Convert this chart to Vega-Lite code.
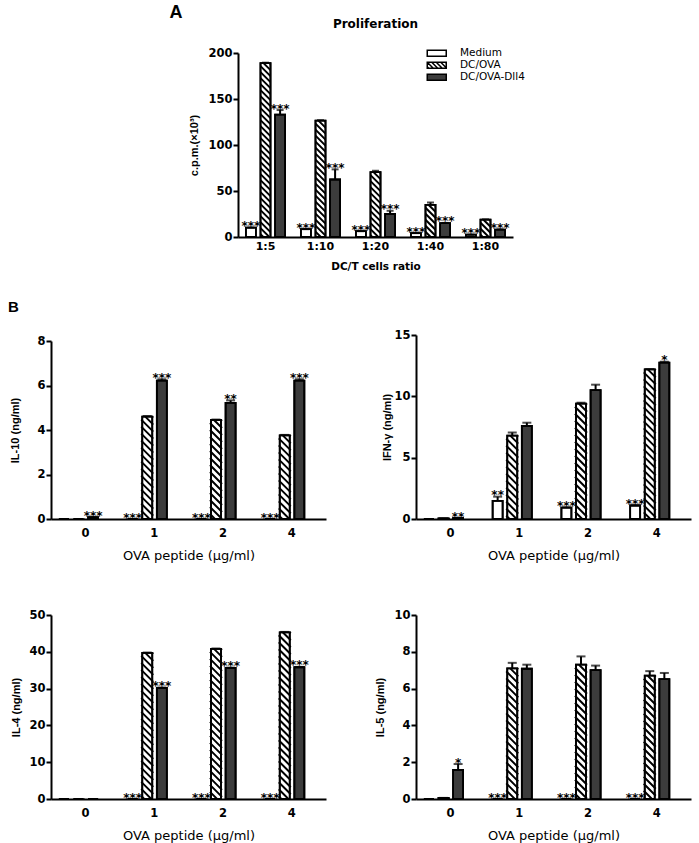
{
  "$schema": "https://vega.github.io/schema/vega-lite/v6.json",
  "background": "white",
  "padding": {"left": 8, "top": 3, "right": 3, "bottom": 0},
  "config": {
    "view": {"stroke": null},
    "font": "DejaVu Sans",
    "axis": {"grid": false, "labelOverlap": false, "domainColor": "black", "domainWidth": 2, "tickColor": "black", "tickWidth": 2, "tickSize": 5, "labelColor": "black", "labelFont": "DejaVu Sans", "labelFontWeight": "bold", "labelFontSize": 11.5, "titleColor": "black"},
    "axisX": {"ticks": false, "tickSize": 0, "labelAngle": 0, "labelPadding": 8, "titleFont": "DejaVu Sans", "titleFontWeight": "normal", "titleFontSize": 13, "titlePadding": 11},
    "axisY": {"labelPadding": 1, "tickCount": 12, "format": "d", "titleFont": "Liberation Sans", "titleFontWeight": "bold", "titleFontSize": 11},
    "title": {"color": "black"}
  },
  "datasets": {
    "prolif": [
      {"ratio": "1:5", "group": "Medium", "value": 10.2, "upper": 10.2, "sig": "***"},
      {"ratio": "1:5", "group": "DC/OVA", "value": 189, "upper": 189.5, "sig": ""},
      {"ratio": "1:5", "group": "DC/OVA-Dll4", "value": 133, "upper": 138, "sig": "***"},
      {"ratio": "1:10", "group": "Medium", "value": 8.5, "upper": 8.5, "sig": "***"},
      {"ratio": "1:10", "group": "DC/OVA", "value": 126.5, "upper": 127, "sig": ""},
      {"ratio": "1:10", "group": "DC/OVA-Dll4", "value": 62.5, "upper": 73.5, "sig": "***"},
      {"ratio": "1:20", "group": "Medium", "value": 6.3, "upper": 6.3, "sig": "***"},
      {"ratio": "1:20", "group": "DC/OVA", "value": 70.5, "upper": 72, "sig": ""},
      {"ratio": "1:20", "group": "DC/OVA-Dll4", "value": 25, "upper": 28.5, "sig": "***"},
      {"ratio": "1:40", "group": "Medium", "value": 4.2, "upper": 4.2, "sig": "***"},
      {"ratio": "1:40", "group": "DC/OVA", "value": 35, "upper": 37.5, "sig": ""},
      {"ratio": "1:40", "group": "DC/OVA-Dll4", "value": 15, "upper": 15.3, "sig": "***"},
      {"ratio": "1:80", "group": "Medium", "value": 2.5, "upper": 2.5, "sig": "***"},
      {"ratio": "1:80", "group": "DC/OVA", "value": 18.8, "upper": 19.2, "sig": ""},
      {"ratio": "1:80", "group": "DC/OVA-Dll4", "value": 8, "upper": 8.3, "sig": "***"}
    ],
    "cyto": [
      {"cyt": "IL-10", "conc": "0", "group": "Medium", "value": 0, "upper": 0, "sig": ""},
      {"cyt": "IL-10", "conc": "0", "group": "DC/OVA", "value": 0, "upper": 0, "sig": ""},
      {"cyt": "IL-10", "conc": "0", "group": "DC/OVA-Dll4", "value": 0.08, "upper": 0.08, "sig": "***"},
      {"cyt": "IL-10", "conc": "1", "group": "Medium", "value": 0, "upper": 0, "sig": "***"},
      {"cyt": "IL-10", "conc": "1", "group": "DC/OVA", "value": 4.6, "upper": 4.63, "sig": ""},
      {"cyt": "IL-10", "conc": "1", "group": "DC/OVA-Dll4", "value": 6.22, "upper": 6.28, "sig": "***"},
      {"cyt": "IL-10", "conc": "2", "group": "Medium", "value": 0, "upper": 0, "sig": "***"},
      {"cyt": "IL-10", "conc": "2", "group": "DC/OVA", "value": 4.45, "upper": 4.47, "sig": ""},
      {"cyt": "IL-10", "conc": "2", "group": "DC/OVA-Dll4", "value": 5.22, "upper": 5.33, "sig": "**"},
      {"cyt": "IL-10", "conc": "4", "group": "Medium", "value": 0, "upper": 0, "sig": "***"},
      {"cyt": "IL-10", "conc": "4", "group": "DC/OVA", "value": 3.76, "upper": 3.78, "sig": ""},
      {"cyt": "IL-10", "conc": "4", "group": "DC/OVA-Dll4", "value": 6.22, "upper": 6.28, "sig": "***"},
      {"cyt": "IFN-g", "conc": "0", "group": "Medium", "value": 0, "upper": 0, "sig": ""},
      {"cyt": "IFN-g", "conc": "0", "group": "DC/OVA", "value": 0.05, "upper": 0.05, "sig": ""},
      {"cyt": "IFN-g", "conc": "0", "group": "DC/OVA-Dll4", "value": 0.08, "upper": 0.08, "sig": "**"},
      {"cyt": "IFN-g", "conc": "1", "group": "Medium", "value": 1.48, "upper": 1.82, "sig": "**"},
      {"cyt": "IFN-g", "conc": "1", "group": "DC/OVA", "value": 6.8, "upper": 7.05, "sig": ""},
      {"cyt": "IFN-g", "conc": "1", "group": "DC/OVA-Dll4", "value": 7.58, "upper": 7.85, "sig": ""},
      {"cyt": "IFN-g", "conc": "2", "group": "Medium", "value": 0.93, "upper": 0.95, "sig": "***"},
      {"cyt": "IFN-g", "conc": "2", "group": "DC/OVA", "value": 9.4, "upper": 9.48, "sig": ""},
      {"cyt": "IFN-g", "conc": "2", "group": "DC/OVA-Dll4", "value": 10.5, "upper": 10.95, "sig": ""},
      {"cyt": "IFN-g", "conc": "4", "group": "Medium", "value": 1.1, "upper": 1.12, "sig": "***"},
      {"cyt": "IFN-g", "conc": "4", "group": "DC/OVA", "value": 12.2, "upper": 12.22, "sig": ""},
      {"cyt": "IFN-g", "conc": "4", "group": "DC/OVA-Dll4", "value": 12.75, "upper": 12.82, "sig": "*"},
      {"cyt": "IL-4", "conc": "0", "group": "Medium", "value": 0, "upper": 0, "sig": ""},
      {"cyt": "IL-4", "conc": "0", "group": "DC/OVA", "value": 0, "upper": 0, "sig": ""},
      {"cyt": "IL-4", "conc": "0", "group": "DC/OVA-Dll4", "value": 0, "upper": 0, "sig": ""},
      {"cyt": "IL-4", "conc": "1", "group": "Medium", "value": 0, "upper": 0, "sig": "***"},
      {"cyt": "IL-4", "conc": "1", "group": "DC/OVA", "value": 39.7, "upper": 39.8, "sig": ""},
      {"cyt": "IL-4", "conc": "1", "group": "DC/OVA-Dll4", "value": 30.2, "upper": 30.3, "sig": "***"},
      {"cyt": "IL-4", "conc": "2", "group": "Medium", "value": 0, "upper": 0, "sig": "***"},
      {"cyt": "IL-4", "conc": "2", "group": "DC/OVA", "value": 40.8, "upper": 40.9, "sig": ""},
      {"cyt": "IL-4", "conc": "2", "group": "DC/OVA-Dll4", "value": 35.6, "upper": 35.7, "sig": "***"},
      {"cyt": "IL-4", "conc": "4", "group": "Medium", "value": 0, "upper": 0, "sig": "***"},
      {"cyt": "IL-4", "conc": "4", "group": "DC/OVA", "value": 45.3, "upper": 45.4, "sig": ""},
      {"cyt": "IL-4", "conc": "4", "group": "DC/OVA-Dll4", "value": 35.8, "upper": 35.9, "sig": "***"},
      {"cyt": "IL-5", "conc": "0", "group": "Medium", "value": 0, "upper": 0, "sig": ""},
      {"cyt": "IL-5", "conc": "0", "group": "DC/OVA", "value": 0.06, "upper": 0.06, "sig": ""},
      {"cyt": "IL-5", "conc": "0", "group": "DC/OVA-Dll4", "value": 1.58, "upper": 1.9, "sig": "*"},
      {"cyt": "IL-5", "conc": "1", "group": "Medium", "value": 0, "upper": 0, "sig": "***"},
      {"cyt": "IL-5", "conc": "1", "group": "DC/OVA", "value": 7.1, "upper": 7.4, "sig": ""},
      {"cyt": "IL-5", "conc": "1", "group": "DC/OVA-Dll4", "value": 7.08, "upper": 7.3, "sig": ""},
      {"cyt": "IL-5", "conc": "2", "group": "Medium", "value": 0, "upper": 0, "sig": "***"},
      {"cyt": "IL-5", "conc": "2", "group": "DC/OVA", "value": 7.3, "upper": 7.75, "sig": ""},
      {"cyt": "IL-5", "conc": "2", "group": "DC/OVA-Dll4", "value": 7.0, "upper": 7.25, "sig": ""},
      {"cyt": "IL-5", "conc": "4", "group": "Medium", "value": 0, "upper": 0, "sig": "***"},
      {"cyt": "IL-5", "conc": "4", "group": "DC/OVA", "value": 6.7, "upper": 6.95, "sig": ""},
      {"cyt": "IL-5", "conc": "4", "group": "DC/OVA-Dll4", "value": 6.52, "upper": 6.85, "sig": ""}
    ]
  },
  "spacing": 27,
  "resolve": {"scale": {"fill": "independent"}, "legend": {"fill": "independent"}},
  "vconcat": [
    {
      "bounds": "flush",
      "spacing": 10,
      "resolve": {"scale": {"fill": "independent"}, "legend": {"fill": "independent"}},
      "hconcat": [
        {
          "width": 177,
          "height": 1,
          "data": {"values": []},
          "mark": "point"
        },
        {
          "width": 275,
          "height": 184,
          "data": {"name": "prolif"},
          "encoding": {
            "x": {"field": "ratio", "type": "nominal", "sort": ["1:5", "1:10", "1:20", "1:40", "1:80"], "scale": {"paddingInner": 0, "paddingOuter": 0}, "axis": {"title": "DC/T cells ratio", "titleFontWeight": "bold", "titleFontSize": 10.5, "labelFontSize": 11, "labelPadding": 3, "titlePadding": 10}},
            "xOffset": {"field": "group", "type": "nominal", "sort": ["Medium", "DC/OVA", "DC/OVA-Dll4"], "scale": {"paddingInner": 0.315, "paddingOuter": 0.541}}
          },
          "layer": [
            {
              "mark": {"type": "bar", "stroke": "black", "strokeWidth": 1.8},
              "encoding": {
                "y": {"field": "value", "type": "quantitative", "scale": {"domain": [0, 200], "nice": false}, "axis": {"title": "c.p.m.(×10³)", "values": [0, 50, 100, 150, 200], "tickCount": 12, "format": "d", "titlePadding": 8}},
                "fill": {"field": "group", "type": "nominal", "scale": {"domain": ["Medium", "DC/OVA", "DC/OVA-Dll4"], "range": ["white", "white", "#3c3c3c"]},
                  "legend": {"title": null, "orient": "none", "legendX": 193.5, "legendY": -5, "padding": 0, "symbolSize": 64, "symbolType": "M-2.375,-0.75L2.375,-0.75L2.375,0.75L-2.375,0.75Z", "symbolStrokeColor": "black", "symbolStrokeWidth": 1.5, "labelFontSize": 10.5, "labelFont": "DejaVu Sans", "labelFontWeight": "normal", "labelColor": "black", "labelOffset": 18, "rowPadding": -1,
                    "encode": {"symbols": {"update": {"shape": {"signal": "datum.value === 'DC/OVA' ? 'M-2.375,-0.75L2.375,-0.75L2.375,0.75L-2.375,0.75ZM-2.375,0.375L-2,0.75M-2.375,-0.75L-0.875,0.75M-1.25,-0.75L0.25,0.75M-0.125,-0.75L1.375,0.75M1,-0.75L2.375,0.625M2.125,-0.75L2.375,-0.5' : 'M-2.375,-0.75L2.375,-0.75L2.375,0.75L-2.375,0.75Z'"}, "stroke": {"value": "black"}}}}}}
              }
            },
            {
              "transform": [{"filter": "datum.group === 'DC/OVA'"}],
              "mark": {"type": "point", "shape": "M4,0L5,1M-2,0L5,7M-5,3L5,13M-5,9L5,19M-5,15L5,25M-5,21L5,31M-5,27L5,37M-5,33L5,43M-5,39L5,49M-5,45L5,55M-5,51L5,61M-5,57L5,67M-5,63L5,73M-5,69L5,79M-5,75L5,85M-5,81L5,91M-5,87L5,97M-5,93L5,103M-5,99L5,109M-5,105L5,115M-5,111L5,121M-5,117L5,127M-5,123L5,133M-5,129L5,139M-5,135L5,145M-5,141L5,151M-5,147L5,157M-5,153L5,163M-5,159L5,169M-5,165L5,175M-5,171L5,181M-5,177L5,187M-5,183L5,193", "size": 4, "filled": false, "stroke": "black", "strokeWidth": 2, "opacity": 1, "clip": true},
              "encoding": {"y": {"field": "value", "type": "quantitative"}}
            },
            {
              "mark": {"type": "bar", "fillOpacity": 0, "stroke": "black", "strokeWidth": 1.8},
              "encoding": {"y": {"field": "value", "type": "quantitative"}}
            },
            {
              "mark": {"type": "rule", "stroke": "black", "strokeWidth": 2},
              "encoding": {"y": {"field": "value", "type": "quantitative"}, "y2": {"field": "upper"}}
            },
            {
              "mark": {"type": "tick", "color": "black", "thickness": 2, "size": 7},
              "encoding": {"y": {"field": "upper", "type": "quantitative"}}
            },
            {
              "mark": {"type": "text", "baseline": "alphabetic", "dy": 2.5, "fontSize": 12, "fontWeight": "bold", "font": "DejaVu Sans", "fill": "black"},
              "encoding": {"y": {"field": "upper", "type": "quantitative"}, "text": {"field": "sig"}}
            },
            {
              "data": {"values": [{"label": "A"}]},
              "mark": {"type": "text", "font": "Liberation Sans", "fontSize": 18, "fontWeight": "bold", "baseline": "middle", "align": "center", "dx": -75, "dy": -40.5, "fill": "black"},
              "encoding": {"x": {"datum": "1:5"}, "xOffset": {"datum": "Medium"}, "y": {"datum": 200}, "text": {"field": "label"}}
            },
            {
              "data": {"values": [{"label": "Proliferation"}]},
              "mark": {"type": "text", "font": "DejaVu Sans", "fontSize": 12, "fontWeight": "bold", "baseline": "middle", "align": "center", "dy": -29.5, "fill": "black"},
              "encoding": {"x": {"datum": "1:20"}, "xOffset": {"datum": "DC/OVA"}, "y": {"datum": 200}, "text": {"field": "label"}}
            }
          ]
        }
      ]
    },
    {
      "columns": 2,
      "bounds": "flush",
      "spacing": {"row": 96, "column": 90},
      "resolve": {"scale": {"fill": "independent"}, "legend": {"fill": "independent"}},
      "concat": [
        {
          "width": 275,
          "height": 184,
          "title": {"text": "B", "anchor": "start", "frame": "group", "dx": -43, "offset": 5.5, "fontSize": 15, "font": "Liberation Sans", "fontWeight": "bold", "baseline": "bottom"},
          "data": {"name": "cyto"},
          "transform": [{"filter": "datum.cyt === 'IL-10'"}],
          "encoding": {
            "x": {"field": "conc", "type": "nominal", "sort": ["0", "1", "2", "4"], "scale": {"paddingInner": 0, "paddingOuter": 0}, "axis": {"title": "OVA peptide (μg/ml)"}},
            "xOffset": {"field": "group", "type": "nominal", "sort": ["Medium", "DC/OVA", "DC/OVA-Dll4"], "scale": {"paddingInner": 0.351, "paddingOuter": 0.534}}
          },
          "layer": [
            {
              "mark": {"type": "bar", "stroke": "black", "strokeWidth": 1.8},
              "encoding": {
                "y": {"field": "value", "type": "quantitative", "scale": {"domain": [0, 8], "range": [184, 6], "nice": false}, "axis": {"title": "IL-10 (ng/ml)", "values": [0, 2, 4, 6, 8], "tickCount": 12, "format": "d", "titlePadding": 16.5}},
                "fill": {"field": "group", "type": "nominal", "scale": {"domain": ["Medium", "DC/OVA", "DC/OVA-Dll4"], "range": ["white", "white", "#3c3c3c"]}, "legend": null}
              }
            },
            {
              "transform": [{"filter": "datum.group === 'DC/OVA'"}],
              "mark": {"type": "point", "shape": "M5,0L6,1M-2,0L6,8M-6,3L6,15M-6,10L6,22M-6,17L6,29M-6,24L6,36M-6,31L6,43M-6,38L6,50M-6,45L6,57M-6,52L6,64M-6,59L6,71M-6,66L6,78M-6,73L6,85M-6,80L6,92M-6,87L6,99M-6,94L6,106M-6,101L6,113M-6,108L6,120M-6,115L6,127M-6,122L6,134M-6,129L6,141M-6,136L6,148M-6,143L6,155M-6,150L6,162M-6,157L6,169M-6,164L6,176M-6,171L6,183M-6,178L6,190M-6,185L6,197", "size": 4, "filled": false, "stroke": "black", "strokeWidth": 2, "opacity": 1, "clip": true},
              "encoding": {"y": {"field": "value", "type": "quantitative"}}
            },
            {
              "mark": {"type": "bar", "fillOpacity": 0, "stroke": "black", "strokeWidth": 1.8},
              "encoding": {"y": {"field": "value", "type": "quantitative"}}
            },
            {
              "mark": {"type": "rule", "stroke": "black", "strokeWidth": 2},
              "encoding": {"y": {"field": "value", "type": "quantitative"}, "y2": {"field": "upper"}}
            },
            {
              "mark": {"type": "tick", "color": "black", "thickness": 2, "size": 9},
              "encoding": {"y": {"field": "upper", "type": "quantitative"}}
            },
            {
              "mark": {"type": "text", "baseline": "alphabetic", "dy": 2.5, "fontSize": 12, "fontWeight": "bold", "font": "DejaVu Sans", "fill": "black"},
              "encoding": {"y": {"field": "upper", "type": "quantitative"}, "text": {"field": "sig"}}
            }
          ]
        },
        {
          "width": 275,
          "height": 184,
          "data": {"name": "cyto"},
          "transform": [{"filter": "datum.cyt === 'IFN-g'"}],
          "encoding": {
            "x": {"field": "conc", "type": "nominal", "sort": ["0", "1", "2", "4"], "scale": {"paddingInner": 0, "paddingOuter": 0}, "axis": {"title": "OVA peptide (μg/ml)"}},
            "xOffset": {"field": "group", "type": "nominal", "sort": ["Medium", "DC/OVA", "DC/OVA-Dll4"], "scale": {"paddingInner": 0.351, "paddingOuter": 0.534}}
          },
          "layer": [
            {
              "mark": {"type": "bar", "stroke": "black", "strokeWidth": 1.8},
              "encoding": {
                "y": {"field": "value", "type": "quantitative", "scale": {"domain": [0, 15], "nice": false}, "axis": {"title": "IFN-γ (ng/ml)", "values": [0, 5, 10, 15], "tickCount": 12, "format": "d", "titlePadding": 1.5}},
                "fill": {"field": "group", "type": "nominal", "scale": {"domain": ["Medium", "DC/OVA", "DC/OVA-Dll4"], "range": ["white", "white", "#3c3c3c"]}, "legend": null}
              }
            },
            {
              "transform": [{"filter": "datum.group === 'DC/OVA'"}],
              "mark": {"type": "point", "shape": "M5,0L6,1M-2,0L6,8M-6,3L6,15M-6,10L6,22M-6,17L6,29M-6,24L6,36M-6,31L6,43M-6,38L6,50M-6,45L6,57M-6,52L6,64M-6,59L6,71M-6,66L6,78M-6,73L6,85M-6,80L6,92M-6,87L6,99M-6,94L6,106M-6,101L6,113M-6,108L6,120M-6,115L6,127M-6,122L6,134M-6,129L6,141M-6,136L6,148M-6,143L6,155M-6,150L6,162M-6,157L6,169M-6,164L6,176M-6,171L6,183M-6,178L6,190M-6,185L6,197", "size": 4, "filled": false, "stroke": "black", "strokeWidth": 2, "opacity": 1, "clip": true},
              "encoding": {"y": {"field": "value", "type": "quantitative"}}
            },
            {
              "mark": {"type": "bar", "fillOpacity": 0, "stroke": "black", "strokeWidth": 1.8},
              "encoding": {"y": {"field": "value", "type": "quantitative"}}
            },
            {
              "mark": {"type": "rule", "stroke": "black", "strokeWidth": 2},
              "encoding": {"y": {"field": "value", "type": "quantitative"}, "y2": {"field": "upper"}}
            },
            {
              "mark": {"type": "tick", "color": "black", "thickness": 2, "size": 9},
              "encoding": {"y": {"field": "upper", "type": "quantitative"}}
            },
            {
              "mark": {"type": "text", "baseline": "alphabetic", "dy": 2.5, "fontSize": 12, "fontWeight": "bold", "font": "DejaVu Sans", "fill": "black"},
              "encoding": {"y": {"field": "upper", "type": "quantitative"}, "text": {"field": "sig"}}
            }
          ]
        },
        {
          "width": 275,
          "height": 184,
          "data": {"name": "cyto"},
          "transform": [{"filter": "datum.cyt === 'IL-4'"}],
          "encoding": {
            "x": {"field": "conc", "type": "nominal", "sort": ["0", "1", "2", "4"], "scale": {"paddingInner": 0, "paddingOuter": 0}, "axis": {"title": "OVA peptide (μg/ml)"}},
            "xOffset": {"field": "group", "type": "nominal", "sort": ["Medium", "DC/OVA", "DC/OVA-Dll4"], "scale": {"paddingInner": 0.351, "paddingOuter": 0.534}}
          },
          "layer": [
            {
              "mark": {"type": "bar", "stroke": "black", "strokeWidth": 1.8},
              "encoding": {
                "y": {"field": "value", "type": "quantitative", "scale": {"domain": [0, 50], "nice": false}, "axis": {"title": "IL-4 (ng/ml)", "values": [0, 10, 20, 30, 40, 50], "tickCount": 12, "format": "d", "titlePadding": 7}},
                "fill": {"field": "group", "type": "nominal", "scale": {"domain": ["Medium", "DC/OVA", "DC/OVA-Dll4"], "range": ["white", "white", "#3c3c3c"]}, "legend": null}
              }
            },
            {
              "transform": [{"filter": "datum.group === 'DC/OVA'"}],
              "mark": {"type": "point", "shape": "M5,0L6,1M-2,0L6,8M-6,3L6,15M-6,10L6,22M-6,17L6,29M-6,24L6,36M-6,31L6,43M-6,38L6,50M-6,45L6,57M-6,52L6,64M-6,59L6,71M-6,66L6,78M-6,73L6,85M-6,80L6,92M-6,87L6,99M-6,94L6,106M-6,101L6,113M-6,108L6,120M-6,115L6,127M-6,122L6,134M-6,129L6,141M-6,136L6,148M-6,143L6,155M-6,150L6,162M-6,157L6,169M-6,164L6,176M-6,171L6,183M-6,178L6,190M-6,185L6,197", "size": 4, "filled": false, "stroke": "black", "strokeWidth": 2, "opacity": 1, "clip": true},
              "encoding": {"y": {"field": "value", "type": "quantitative"}}
            },
            {
              "mark": {"type": "bar", "fillOpacity": 0, "stroke": "black", "strokeWidth": 1.8},
              "encoding": {"y": {"field": "value", "type": "quantitative"}}
            },
            {
              "mark": {"type": "rule", "stroke": "black", "strokeWidth": 2},
              "encoding": {"y": {"field": "value", "type": "quantitative"}, "y2": {"field": "upper"}}
            },
            {
              "mark": {"type": "tick", "color": "black", "thickness": 2, "size": 9},
              "encoding": {"y": {"field": "upper", "type": "quantitative"}}
            },
            {
              "mark": {"type": "text", "baseline": "alphabetic", "dy": 2.5, "fontSize": 12, "fontWeight": "bold", "font": "DejaVu Sans", "fill": "black"},
              "encoding": {"y": {"field": "upper", "type": "quantitative"}, "text": {"field": "sig"}}
            }
          ]
        },
        {
          "width": 275,
          "height": 184,
          "data": {"name": "cyto"},
          "transform": [{"filter": "datum.cyt === 'IL-5'"}],
          "encoding": {
            "x": {"field": "conc", "type": "nominal", "sort": ["0", "1", "2", "4"], "scale": {"paddingInner": 0, "paddingOuter": 0}, "axis": {"title": "OVA peptide (μg/ml)"}},
            "xOffset": {"field": "group", "type": "nominal", "sort": ["Medium", "DC/OVA", "DC/OVA-Dll4"], "scale": {"paddingInner": 0.351, "paddingOuter": 0.534}}
          },
          "layer": [
            {
              "mark": {"type": "bar", "stroke": "black", "strokeWidth": 1.8},
              "encoding": {
                "y": {"field": "value", "type": "quantitative", "scale": {"domain": [0, 10], "nice": false}, "axis": {"title": "IL-5 (ng/ml)", "values": [0, 2, 4, 6, 8, 10], "tickCount": 12, "format": "d", "titlePadding": 8}},
                "fill": {"field": "group", "type": "nominal", "scale": {"domain": ["Medium", "DC/OVA", "DC/OVA-Dll4"], "range": ["white", "white", "#3c3c3c"]}, "legend": null}
              }
            },
            {
              "transform": [{"filter": "datum.group === 'DC/OVA'"}],
              "mark": {"type": "point", "shape": "M5,0L6,1M-2,0L6,8M-6,3L6,15M-6,10L6,22M-6,17L6,29M-6,24L6,36M-6,31L6,43M-6,38L6,50M-6,45L6,57M-6,52L6,64M-6,59L6,71M-6,66L6,78M-6,73L6,85M-6,80L6,92M-6,87L6,99M-6,94L6,106M-6,101L6,113M-6,108L6,120M-6,115L6,127M-6,122L6,134M-6,129L6,141M-6,136L6,148M-6,143L6,155M-6,150L6,162M-6,157L6,169M-6,164L6,176M-6,171L6,183M-6,178L6,190M-6,185L6,197", "size": 4, "filled": false, "stroke": "black", "strokeWidth": 2, "opacity": 1, "clip": true},
              "encoding": {"y": {"field": "value", "type": "quantitative"}}
            },
            {
              "mark": {"type": "bar", "fillOpacity": 0, "stroke": "black", "strokeWidth": 1.8},
              "encoding": {"y": {"field": "value", "type": "quantitative"}}
            },
            {
              "mark": {"type": "rule", "stroke": "black", "strokeWidth": 2},
              "encoding": {"y": {"field": "value", "type": "quantitative"}, "y2": {"field": "upper"}}
            },
            {
              "mark": {"type": "tick", "color": "black", "thickness": 2, "size": 9},
              "encoding": {"y": {"field": "upper", "type": "quantitative"}}
            },
            {
              "mark": {"type": "text", "baseline": "alphabetic", "dy": 2.5, "fontSize": 12, "fontWeight": "bold", "font": "DejaVu Sans", "fill": "black"},
              "encoding": {"y": {"field": "upper", "type": "quantitative"}, "text": {"field": "sig"}}
            }
          ]
        }
      ]
    }
  ]
}
